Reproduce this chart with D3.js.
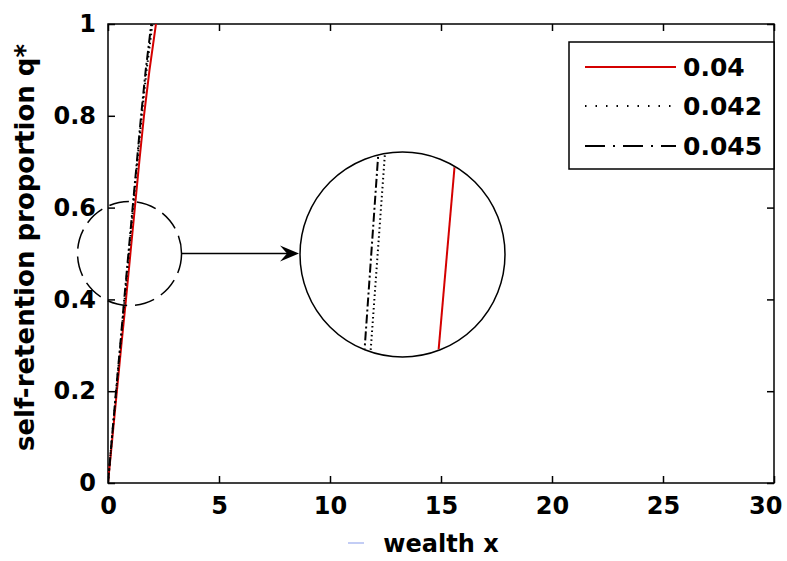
<!DOCTYPE html>
<html>
<head>
<meta charset="utf-8">
<script src="https://cdn.jsdelivr.net/npm/d3@7"></script>
<style>
  body { margin: 0; background: #fff; }
  text { font-family: "DejaVu Sans", sans-serif; font-weight: bold; fill: #000; }
</style>
</head>
<body>
<svg id="chart"></svg>
<script>
// data: wealth x at which q* reaches each level
const qLevels   = [0, 0.1, 0.2, 0.3, 0.4, 0.5, 0.6, 0.7, 0.8, 0.9, 1.0];
const wealth040 = [0, 0.20, 0.40, 0.60, 0.81, 1.01, 1.21, 1.41, 1.62, 1.87, 2.16];
const wealth042 = [0, 0.18, 0.37, 0.56, 0.75, 0.94, 1.13, 1.32, 1.52, 1.74, 2.00];
const wealth045 = [0, 0.18, 0.36, 0.55, 0.73, 0.92, 1.11, 1.30, 1.49, 1.70, 1.95];

// magnified piece around q* = 0.5
const zoomQ   = [0.47, 0.53];
const zoom040 = [0.98605, 0.99128];
const zoom042 = [0.97297, 0.97732];
const zoom045 = [0.97180, 0.97600];

const seriesNames = ["0.04", "0.042", "0.045"];
const xTicks = [0, 5, 10, 15, 20, 25, 30];
const yTicks = [0, 0.2, 0.4, 0.6, 0.8, 1];

const w = 787, h = 561;
const padLeft = 108, padRight = 774, padTop = 24, padBottom = 483;

const svg = d3.select("#chart").attr("width", w).attr("height", h);

const xScale = d3.scaleLinear().domain([0, 30]).range([padLeft, padRight]);
const yScale = d3.scaleLinear().domain([0, 1]).range([padBottom, padTop]);

// line styles for each series
const styles = [
  {color: "#d40000", dash: null, legendDash: null, zoomDash: null},
  {color: "#000", dash: "1.5,3", legendDash: "1.5,9", zoomDash: "1.5,3"},
  {color: "#000", dash: "9,3,2,3", legendDash: "20,8,2,8", zoomDash: "9,3,2,3"}
];
const mainData = [wealth040, wealth042, wealth045];
const zoomData = [zoom040, zoom042, zoom045];

const defs = svg.append("defs");
defs.append("clipPath").attr("id", "plotClip")
    .append("rect").attr("x", padLeft).attr("y", padTop)
    .attr("width", padRight - padLeft).attr("height", padBottom - padTop);

// axes: ticks pointing inward, box drawn separately
const fmt = d3.format("~g");
const xAxisG = svg.append("g").attr("transform", `translate(0,${padBottom})`)
   .call(d3.axisBottom(xScale).tickValues(xTicks).tickFormat(fmt)
         .tickSizeInner(-7).tickSizeOuter(0).tickPadding(14));
svg.append("g").attr("transform", `translate(${padLeft},0)`)
   .call(d3.axisLeft(yScale).tickValues(yTicks).tickFormat(fmt)
         .tickSizeInner(-7).tickSizeOuter(0).tickPadding(12));
svg.append("g").attr("transform", `translate(0,${padTop})`)
   .call(d3.axisTop(xScale).tickValues(xTicks).tickFormat("")
         .tickSizeInner(-7).tickSizeOuter(0));
svg.append("g").attr("transform", `translate(${padRight},0)`)
   .call(d3.axisRight(yScale).tickValues(yTicks).tickFormat("")
         .tickSizeInner(-7).tickSizeOuter(0));

svg.selectAll(".domain").remove();
svg.selectAll(".tick line").attr("stroke", "#000").attr("stroke-width", 1.5);
svg.selectAll(".tick text").style("font-size", "24px");

// last x label sits pulled in from the edge, as in the original
xAxisG.selectAll(".tick text").filter(d => d === 30)
   .attr("text-anchor", "end").attr("x", 8);

svg.append("rect")
   .attr("x", padLeft).attr("y", padTop)
   .attr("width", padRight - padLeft).attr("height", padBottom - padTop)
   .attr("fill", "none").attr("stroke", "#000").attr("stroke-width", 1.5);

// curves
const line = d3.line().x(d => xScale(d[0])).y(d => yScale(d[1]));
const curves = svg.append("g").attr("clip-path", "url(#plotClip)");
mainData.forEach((vals, i) => {
  curves.append("path")
    .datum(vals.map((v, j) => [v, qLevels[j]]))
    .attr("d", line)
    .attr("fill", "none")
    .attr("stroke", styles[i].color)
    .attr("stroke-width", 2)
    .attr("stroke-dasharray", styles[i].dash);
});

// dashed circle around the region that is magnified
const cx = xScale(0.97), cy = yScale(0.5), r = 52;
svg.append("circle")
   .attr("cx", cx).attr("cy", cy).attr("r", r)
   .attr("fill", "none").attr("stroke", "#000").attr("stroke-width", 1.5)
   .attr("stroke-dasharray", "20,8");

// inset
const insetR = 102.5, insetCx = 402.5, insetCy = cy + 1;
const ix = d3.scaleLinear().domain([0.96, 1.0]).range([insetCx - insetR, insetCx + insetR]);
const iy = d3.scaleLinear().domain([0.48, 0.52]).range([insetCy + insetR, insetCy - insetR]);

defs.append("clipPath").attr("id", "insetClip")
    .append("circle").attr("cx", insetCx).attr("cy", insetCy).attr("r", insetR - 1);

const insetLine = d3.line().x(d => ix(d[0])).y(d => iy(d[1]));
const inset = svg.append("g").attr("clip-path", "url(#insetClip)");
zoomData.forEach((vals, i) => {
  inset.append("path")
    .datum(vals.map((v, j) => [v, zoomQ[j]]))
    .attr("d", insetLine)
    .attr("fill", "none")
    .attr("stroke", styles[i].color)
    .attr("stroke-width", 2)
    .attr("stroke-dasharray", styles[i].zoomDash);
});
svg.append("circle")
   .attr("cx", insetCx).attr("cy", insetCy).attr("r", insetR)
   .attr("fill", "none").attr("stroke", "#000").attr("stroke-width", 1.5);

// arrow from the dashed circle to the inset
const ax0 = cx + r, ax1 = insetCx - insetR - 1;
svg.append("line")
   .attr("x1", ax0).attr("y1", cy).attr("x2", ax1 - 10).attr("y2", cy)
   .attr("stroke", "#000").attr("stroke-width", 1.5);
svg.append("path")
   .attr("d", `M${ax1},${cy} L${ax1 - 19},${cy - 8} L${ax1 - 12},${cy} L${ax1 - 19},${cy + 8} Z`)
   .attr("fill", "#000");

// legend
const legend = svg.append("g");
legend.append("rect")
   .attr("x", 569).attr("y", 42).attr("width", padRight - 569).attr("height", 127)
   .attr("fill", "#fff").attr("stroke", "#000").attr("stroke-width", 1.5);
const rowY = [67, 106, 146];
seriesNames.forEach((name, i) => {
  legend.append("line")
    .attr("x1", 585).attr("x2", 676).attr("y1", rowY[i]).attr("y2", rowY[i])
    .attr("stroke", styles[i].color).attr("stroke-width", 2)
    .attr("stroke-dasharray", styles[i].legendDash);
  legend.append("text")
    .attr("x", 683).attr("y", rowY[i]).attr("dy", "0.36em")
    .style("font-size", "25px")
    .text(name);
});

// axis titles
svg.append("text")
   .attr("x", 441).attr("y", 552)
   .attr("text-anchor", "middle")
   .style("font-size", "24px")
   .text("wealth x");

// small stray mark next to the x title in the original
svg.append("line")
   .attr("x1", 348).attr("x2", 364).attr("y1", 543).attr("y2", 543)
   .attr("stroke", "#8fa0ee").attr("stroke-width", 1.5).attr("opacity", 0.7);

svg.append("text")
   .attr("transform", `translate(34,${(padTop + padBottom) / 2 - 6}) rotate(-90)`)
   .attr("text-anchor", "middle")
   .style("font-size", "26px")
   .text("self-retention proportion q*");
</script>
</body>
</html>
